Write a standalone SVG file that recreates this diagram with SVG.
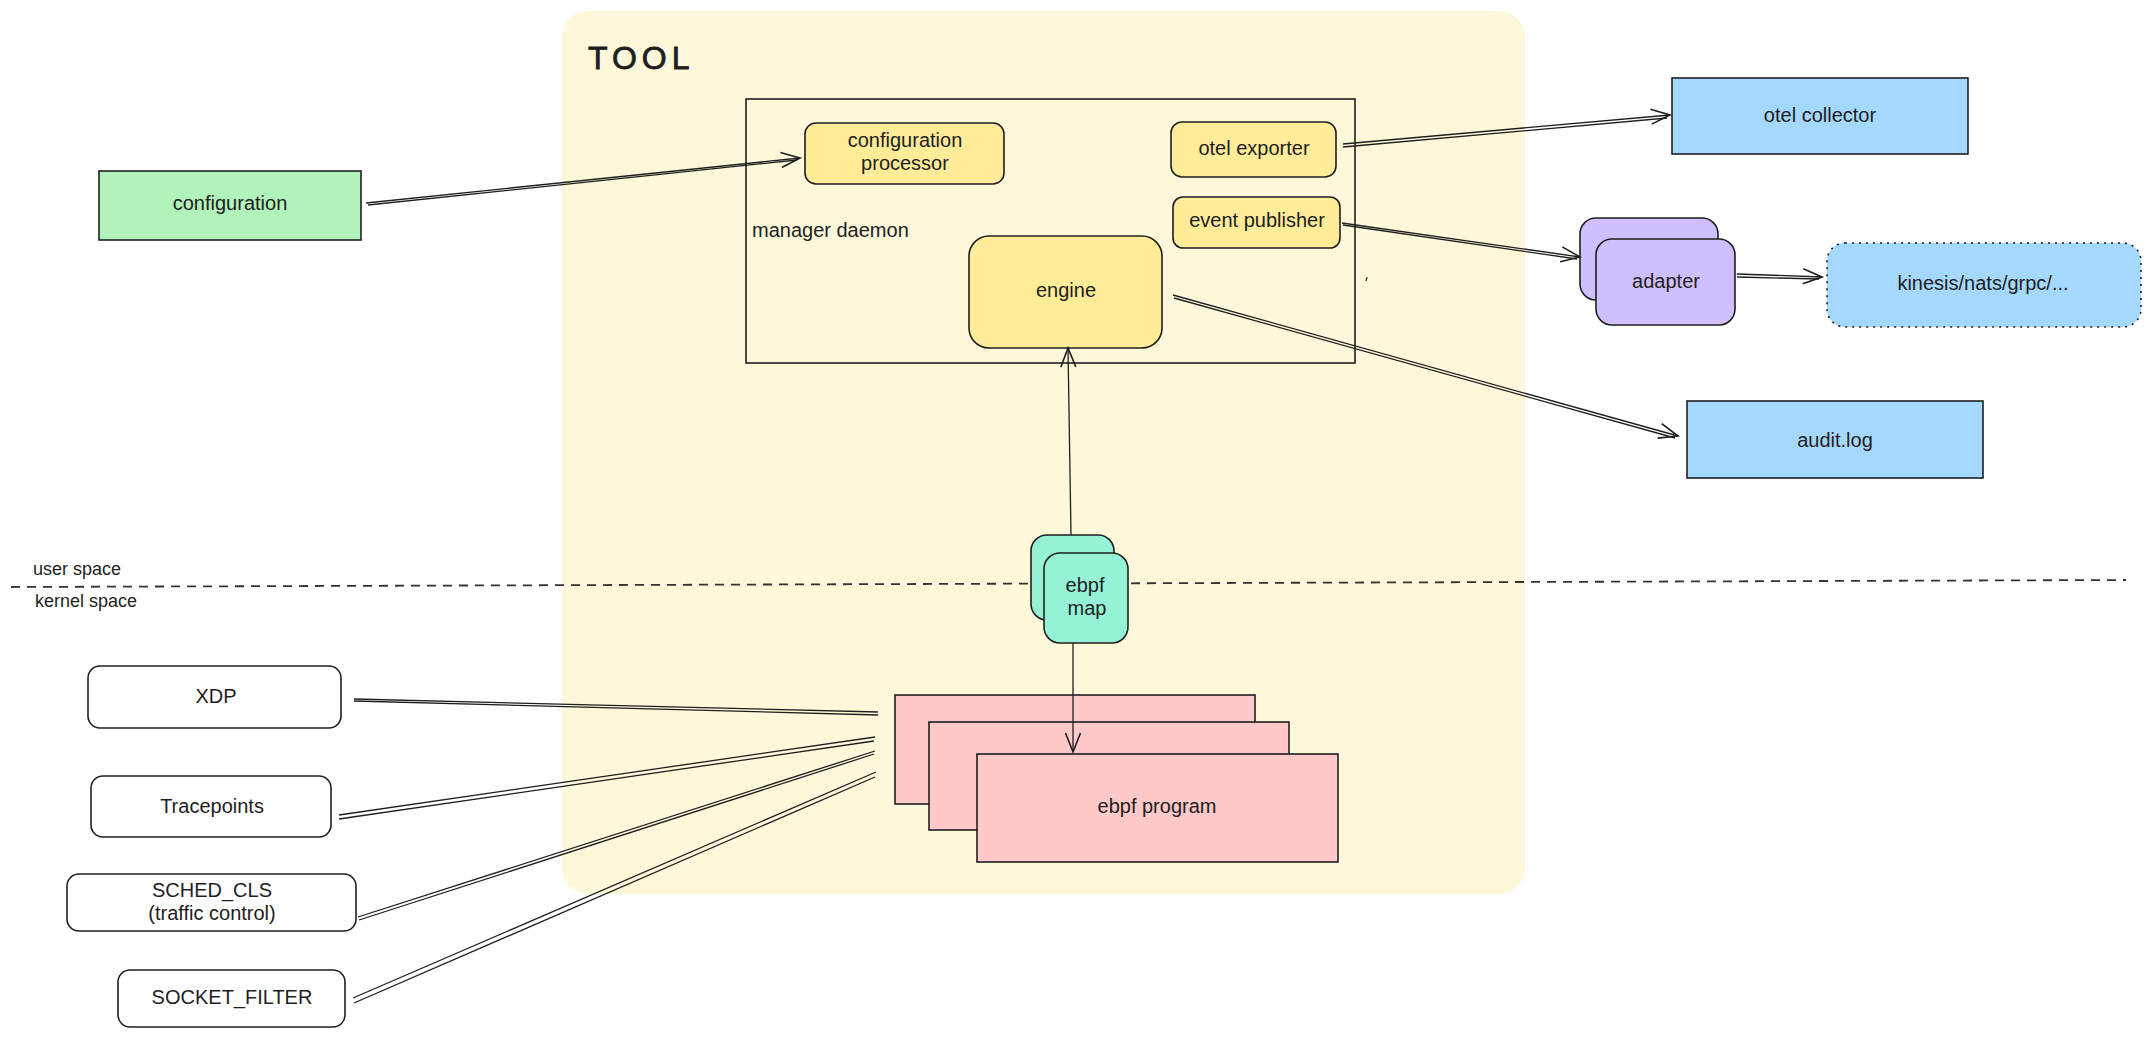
<svg xmlns="http://www.w3.org/2000/svg" width="2151" height="1055" viewBox="0 0 2151 1055">
<style>
.t{font-family:"Liberation Sans",Arial,sans-serif;font-size:20px;fill:#1e1e1e;text-anchor:middle}
.tl{font-family:"Liberation Sans",Arial,sans-serif;font-size:20px;fill:#1e1e1e}
.s{stroke:#1e1e1e;stroke-width:1.6}
.c{fill:none;stroke:#1e1e1e;stroke-width:1.3}
.y{fill:#ffec99}
.g{fill:#b2f2bb}
.b{fill:#a5d8ff}
.p{fill:#d0bfff}
.m{fill:#96f2d7}
.r{fill:#ffc9c9}
.w{fill:#ffffff}
</style>
<defs>
<marker id="arr" viewBox="-22 -11 24 22" refX="0" refY="0" markerWidth="24" markerHeight="22" markerUnits="userSpaceOnUse" orient="auto">
<path d="M-19,-7.5 L0,0 L-19,7.5" fill="none" stroke="#1e1e1e" stroke-width="1.6"/>
</marker>
</defs>
<rect width="2151" height="1055" fill="#ffffff"/>
<g id="tool-frame">
<rect x="562" y="11" width="963" height="883" rx="26" fill="#fef8da"/>
<text x="588" y="69" style="font-family:'Liberation Sans',Arial,sans-serif;font-size:32px;letter-spacing:5px;fill:#1e1e1e;stroke:#1e1e1e;stroke-width:0.8">TOOL</text>
</g>
<g id="space-divider">
<path d="M11,587 L2126,580" fill="none" stroke="#333333" stroke-width="1.8" stroke-dasharray="9 7"/>
<text class="tl" x="33" y="575" style="font-size:18px">user space</text>
<text class="tl" x="35" y="607" style="font-size:18px">kernel space</text>
</g>
<g id="manager-daemon">
<rect x="746" y="99" width="609" height="264" fill="none" class="s"/>
<text class="tl" x="752" y="237">manager daemon</text>
</g>
<g id="configuration">
<rect x="99" y="171" width="262" height="69" class="g s"/>
<text class="t" x="230" y="210">configuration</text>
</g>
<g id="configuration-processor">
<rect x="805" y="123" width="199" height="61" rx="11" class="y s"/>
<text class="t" x="905" y="147">configuration</text>
<text class="t" x="905" y="170">processor</text>
</g>
<g id="otel-exporter">
<rect x="1171" y="122" width="165" height="55" rx="11" class="y s"/>
<text class="t" x="1254" y="155">otel exporter</text>
</g>
<g id="event-publisher">
<rect x="1173" y="197" width="167" height="51" rx="10" class="y s"/>
<text class="t" x="1257" y="227">event publisher</text>
</g>
<g id="engine">
<rect x="969" y="236" width="193" height="112" rx="20" class="y s"/>
<text class="t" x="1066" y="297">engine</text>
</g>
<path d="M1367,277 L1366,281" stroke="#1e1e1e" stroke-width="1.2"/>
<g id="otel-collector">
<rect x="1672" y="78" width="296" height="76" class="b s"/>
<text class="t" x="1820" y="122">otel collector</text>
</g>
<g id="adapter">
<rect x="1580" y="218" width="138" height="82" rx="16" class="p s"/>
<rect x="1596" y="239" width="139" height="86" rx="16" class="p s"/>
<text class="t" x="1666" y="288">adapter</text>
</g>
<g id="kinesis">
<rect x="1827" y="243" width="314" height="84" rx="18" class="b" stroke="#1e1e1e" stroke-width="1.6" stroke-dasharray="2 5"/>
<text class="t" x="1983" y="290">kinesis/nats/grpc/...</text>
</g>
<g id="audit-log">
<rect x="1687" y="401" width="296" height="77" class="b s"/>
<text class="t" x="1835" y="447">audit.log</text>
</g>
<g id="ebpf-map">
<rect x="1031" y="535" width="83" height="85" rx="16" class="m s"/>
<rect x="1044" y="553" width="84" height="90" rx="16" class="m s"/>
<text class="t" x="1085" y="592">ebpf</text>
<text class="t" x="1087" y="615">map</text>
</g>
<g id="ebpf-program">
<rect x="895" y="695" width="360" height="109" class="r s"/>
<rect x="929" y="722" width="360" height="108" class="r s"/>
<rect x="977" y="754" width="361" height="108" class="r s"/>
<text class="t" x="1157" y="813">ebpf program</text>
</g>
<g id="xdp">
<rect x="88" y="666" width="253" height="62" rx="12" class="w s"/>
<text class="t" x="216" y="703">XDP</text>
</g>
<g id="tracepoints">
<rect x="91" y="776" width="240" height="61" rx="12" class="w s"/>
<text class="t" x="212" y="813">Tracepoints</text>
</g>
<g id="sched-cls">
<rect x="67" y="874" width="289" height="57" rx="12" class="w s"/>
<text class="t" x="212" y="897">SCHED_CLS</text>
<text class="t" x="212" y="920">(traffic control)</text>
</g>
<g id="socket-filter">
<rect x="118" y="970" width="227" height="57" rx="12" class="w s"/>
<text class="t" x="232" y="1004">SOCKET_FILTER</text>
</g>
<g id="connectors">
<path class="c" d="M366,203 L800,158" marker-end="url(#arr)"/>
<path class="c" d="M368,205 L797,160"/>
<path class="c" d="M1343,144 L1670,115" marker-end="url(#arr)"/>
<path class="c" d="M1343,147 L1667,118"/>
<path class="c" d="M1342,223 L1580,257" marker-end="url(#arr)"/>
<path class="c" d="M1343,225 L1577,259"/>
<path class="c" d="M1737,274 L1822,277" marker-end="url(#arr)"/>
<path class="c" d="M1737,277 L1819,279"/>
<path class="c" d="M1173,295 L1678,436" marker-end="url(#arr)"/>
<path class="c" d="M1174,298 L1675,438"/>
<path class="c" d="M1071,535 L1068,348" marker-end="url(#arr)"/>
<path class="c" d="M1073,643 L1073,752" marker-end="url(#arr)"/>
<path class="c" d="M354,699 L878,712"/>
<path class="c" d="M354,701 L878,715"/>
<path class="c" d="M339,815 L875,737"/>
<path class="c" d="M339,819 L874,741"/>
<path class="c" d="M358,917 L875,751"/>
<path class="c" d="M359,920 L874,754"/>
<path class="c" d="M353,998 L876,772"/>
<path class="c" d="M354,1003 L875,777"/>
</g>
</svg>
